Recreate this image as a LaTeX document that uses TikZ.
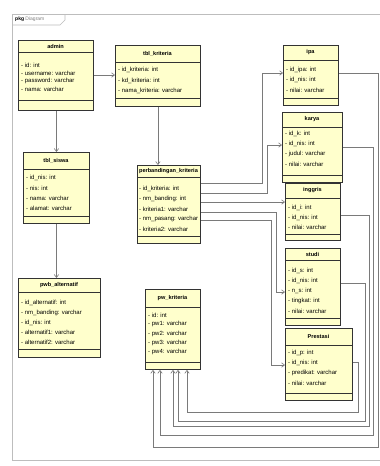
\documentclass[tikz,border=0pt]{standalone}
\usepackage{fontspec}
\setmainfont{Liberation Sans}
\usetikzlibrary{arrows.meta}
\definecolor{boxfill}{HTML}{FFFFCC}
\definecolor{boxline}{HTML}{333333}
\definecolor{conn}{HTML}{7A7A7A}
\definecolor{framec}{HTML}{BDBDBD}
\tikzset{
  classbox/.style={draw=boxline, line width=0.9pt, fill=boxfill, inner sep=0pt},
  sepline/.style={draw=boxline, line width=0.6pt},
  ctitle/.style={font=\fontsize{5.6}{6}\selectfont\bfseries, inner sep=0pt},
  field/.style={font=\fontsize{6.0}{6.5}\selectfont, anchor=west, inner sep=0pt},
  assoc/.style={draw=conn, line width=0.6pt, -{Straight Barb[length=3pt,width=4.5pt]}},
  plainc/.style={draw=conn, line width=0.6pt},
}
% #1 name, #2 x1, #3 y1, #4 x2, #5 y2, #6 title band bottom, #7 ops line, #8 title
\newcommand\umlbox[8]{%
  \node[classbox, minimum width={(#4-#2)*1pt}, minimum height={(#5-#3)*1pt}, anchor=north west] (#1) at (#2,#3) {};
  \draw[sepline] (#2,#6) -- (#4,#6);
  \draw[sepline] (#2,#7) -- (#4,#7);
  \node[ctitle] (#1-title) at ({(#2+#4)/2},{(#3+#6)/2}) {#8};
}
% #1 x, #2 first y, #3 step, #4 list
\newcommand\umlfields[4]{%
  \foreach \t [count=\i from 0] in {#4} {\node[field] at (#1,{#2+\i*#3}) {\t};}
}
\begin{document}
\begin{tikzpicture}[x=1pt,y=-1pt]
\useasboundingbox (0,0) rectangle (380,466);
\fill[white] (0,0) rectangle (380,466);
% frame
\draw[framec, line width=0.6pt] (380,14) -- (12,14) -- (12,460) -- (380,460);
\draw[framec, line width=0.6pt] (12,25) -- (60,25) -- (65,20) -- (65,14);
\node[anchor=west, inner sep=0pt, font=\fontsize{5}{6}\selectfont] (tab) at (15,19.5) {\textbf{pkg} \textcolor{gray}{Diagram}};

% classes
\umlbox{admin}{18}{40}{93}{110}{52}{100}{admin}
\umlfields{21}{65}{8}{- id: int, - username: varchar, - password: varchar, - nama: varchar}

\umlbox{krit}{115}{45}{200}{106}{62}{98}{tbl\_kriteria}
\umlfields{118}{70}{10.5}{- id\_kriteria: int, - kd\_kriteria: int, - nama\_kriteria: varchar}

\umlbox{siswa}{23}{152}{89}{223}{169}{216}{tbl\_siswa}
\umlfields{26}{178}{10}{- id\_nis: int, - nis: int, - nama: varchar, - alamat: varchar}

\umlbox{pwalt}{18}{278}{100}{357}{292}{349}{pwb\_alternatif}
\umlfields{21}{303}{9.8}{- id\_alternatif: int, - nm\_banding: varchar, - id\_nis: int, - alternatif1: varchar, - alternatif2: varchar}

\umlbox{perb}{137}{165}{200}{243}{177}{236}{perbandingan\_kriteria}
\umlfields{139}{189}{10}{- id\_kriteria: int, - nm\_banding: int, - kriteria1: varchar, - nm\_pasang: varchar, - kriteria2: varchar}

\umlbox{pwk}{145}{289}{200}{369}{307}{362}{pw\_kriteria}
\umlfields{148}{315}{9.3}{- id: int, - pw1: varchar, - pw2: varchar, - pw3: varchar, - pw4: varchar}

\umlbox{ipa}{283}{45}{338}{105}{60}{98}{ipa}
\umlfields{286}{70}{10}{- id\_ipa: int, - id\_nis: int, - nilai: varchar}

\umlbox{karya}{282}{112}{342}{182}{127}{175}{karya}
\umlfields{285}{134}{10}{- id\_k: int, - id\_nis: int, - judul: varchar, - nilai: varchar}

\umlbox{ingg}{285}{183}{340}{240}{198}{234}{inggris}
\umlfields{288}{208}{9.5}{- id\_i: int, - id\_nis: int, - nilai: varchar}

\umlbox{studi}{285}{248}{340}{325}{260}{318}{studi}
\umlfields{288}{271}{10}{- id\_s: int, - id\_nis: int, - n\_s: int, - tingkat: int, - nilai: varchar}

\umlbox{pres}{285}{328}{352}{400}{345}{393}{Prestasi}
\umlfields{288}{353}{10}{- id\_p: int, - id\_nis: int, - predikat: varchar, - nilai: varchar}

% connectors
\draw[assoc] (admin.east |- 0,75) -- (krit.west |- 0,75);
\draw[assoc] (admin.south -| siswa.north) -- (siswa.north);
\draw[assoc] (siswa.south) -- (siswa.south |- pwalt.north);
\draw[assoc] (krit.south) -- (krit.south |- perb.north);

\draw[assoc] (perb.east |- 0,183) -- (262,183) -- (262,73) -- (ipa.west |- 0,73);
\draw[assoc] (perb.east |- 0,193) -- (267,193) -- (267,145) -- (karya.west |- 0,145);
\draw[assoc] (perb.east |- 0,202) -- (ingg.west |- 0,202);
\draw[assoc] (perb.east |- 0,212) -- (276,212) -- (276,292) -- (studi.west |- 0,292);
\draw[assoc] (perb.east |- 0,220) -- (271,220) -- (271,365) -- (pres.west |- 0,365);

\draw[assoc] (ipa.east |- 0,73) -- (378,73) -- (378,447) -- (153,447) -- (pwk.south -| 153,0);
\draw[assoc] (karya.east |- 0,147) -- (373,147) -- (373,435) -- (160,435) -- (pwk.south -| 160,0);
\draw[assoc] (ingg.east |- 0,215) -- (369,215) -- (369,426) -- (173,426) -- (pwk.south -| 173,0);
\draw[assoc] (studi.east |- 0,283) -- (365,283) -- (365,421) -- (178,421) -- (pwk.south -| 178,0);
\draw[assoc] (pres.east |- 0,362) -- (358,362) -- (358,412) -- (187,412) -- (pwk.south -| 187,0);
\end{tikzpicture}
\end{document}
